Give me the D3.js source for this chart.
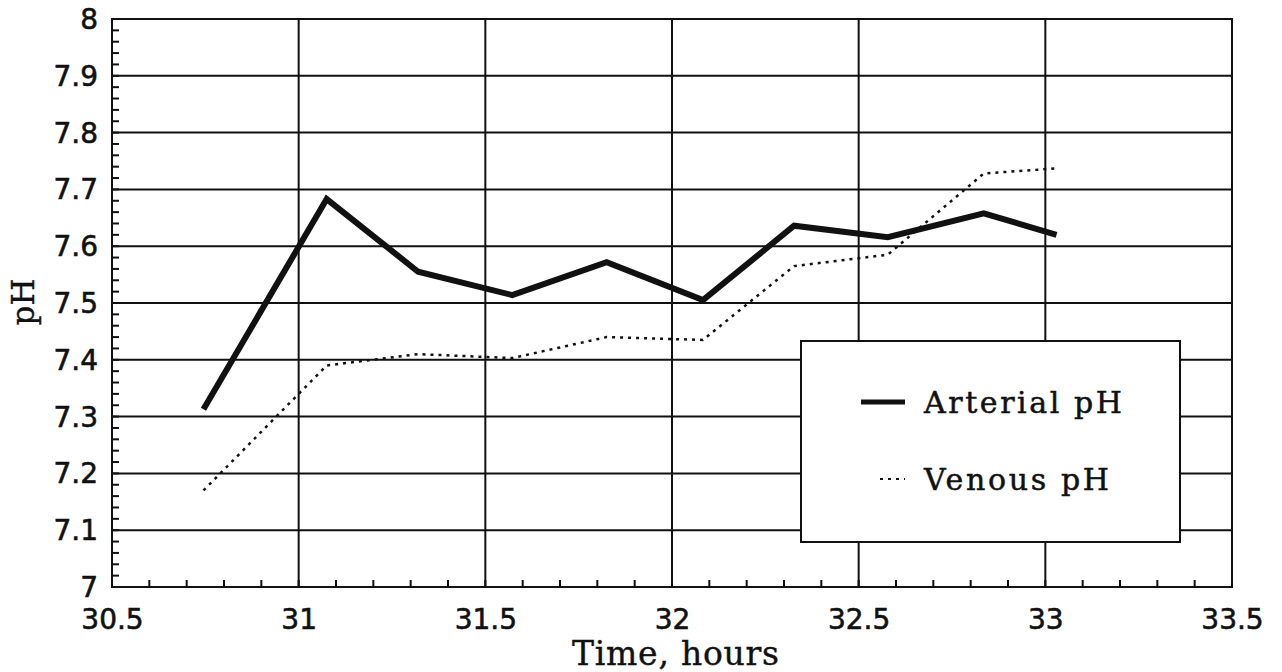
<!DOCTYPE html>
<html><head><meta charset="utf-8">
<script src="https://cdn.jsdelivr.net/npm/d3@7"></script>
<style>body{margin:0;background:#fff}svg{display:block}</style>
</head><body>
<script>
const times = [30.745, 31.075, 31.32, 31.572, 31.825, 32.083, 32.327, 32.578, 32.835, 33.03];
const arterialPH = [7.313, 7.683, 7.555, 7.514, 7.572, 7.505, 7.636, 7.616, 7.658, 7.62];
const venousPH  = [7.17, 7.39, 7.41, 7.403, 7.44, 7.435, 7.565, 7.585, 7.728, 7.737];
const xTicks = [30.5, 31, 31.5, 32, 32.5, 33, 33.5];
const yTicks = [7, 7.1, 7.2, 7.3, 7.4, 7.5, 7.6, 7.7, 7.8, 7.9, 8];
const legendLabels = ["Arterial pH", "Venous pH"];

const W = 1282, H = 672;
const m = {left: 112, right: 50, top: 19, bottom: 85};
const svg = d3.select("body").append("svg").attr("width", W).attr("height", H);
const x = d3.scaleLinear().domain([30.5, 33.5]).range([m.left, W - m.right]);
const y = d3.scaleLinear().domain([7, 8]).range([H - m.bottom, m.top]);
const sans = "'DejaVu Sans', sans-serif";
const serif = "'DejaVu Serif', serif";

// grid
const g = svg.append("g").attr("stroke", "#111").attr("stroke-width", 2);
g.selectAll(".hg").data(yTicks).join("line")
  .attr("x1", x(30.5)).attr("x2", x(33.5)).attr("y1", d => y(d)).attr("y2", d => y(d));
g.selectAll(".vg").data(xTicks).join("line")
  .attr("y1", y(7)).attr("y2", y(8)).attr("x1", d => x(d)).attr("x2", d => x(d));

// minor ticks
const yMinor = d3.range(7, 8.0001, 0.02);
g.selectAll(".ym").data(yMinor).join("line")
  .attr("x1", x(30.5)).attr("x2", x(30.5) + 7).attr("y1", d => y(d)).attr("y2", d => y(d));
const xMinor = d3.range(30.5, 33.5001, 0.1);
g.selectAll(".xm").data(xMinor).join("line")
  .attr("x1", d => x(d)).attr("x2", d => x(d)).attr("y1", y(7)).attr("y2", y(7) - 7);

// axes labels via d3 axes
const xAxis = svg.append("g").attr("transform", `translate(0,${y(7)})`)
  .call(d3.axisBottom(x).tickValues(xTicks).tickFormat(d3.format("")).tickSize(0).tickPadding(0));
const yAxis = svg.append("g").attr("transform", `translate(${x(30.5)},0)`)
  .call(d3.axisLeft(y).tickValues(yTicks).tickFormat(d3.format("")).tickSize(0).tickPadding(14));
[xAxis, yAxis].forEach(a => {
  a.select(".domain").remove();
  a.selectAll("text").attr("font-family", sans).attr("font-size", 28)
    .attr("fill", "#111").attr("stroke", "#111").attr("stroke-width", 0.6);
});
xAxis.selectAll("text").attr("y", 42).attr("dy", null);
yAxis.selectAll("text").attr("dy", "0.34em");

// lines
const line = d3.line().x((d, i) => x(times[i])).y(d => y(d));
svg.append("path").datum(venousPH).attr("d", line).attr("fill", "none")
  .attr("stroke", "#111").attr("stroke-width", 2.5).attr("stroke-dasharray", "3,5");
svg.append("path").datum(arterialPH).attr("d", line).attr("fill", "none")
  .attr("stroke", "#111").attr("stroke-width", 6).attr("stroke-linejoin", "miter");

// frame
svg.append("rect").attr("x", x(30.5)).attr("y", y(8)).attr("width", x(33.5) - x(30.5)).attr("height", y(7) - y(8))
  .attr("fill", "none").attr("stroke", "#111").attr("stroke-width", 2);

// legend
const lg = svg.append("g");
lg.append("rect").attr("x", 801).attr("y", 341).attr("width", 379).attr("height", 201)
  .attr("fill", "#fff").attr("stroke", "#111").attr("stroke-width", 2);
lg.append("line").attr("x1", 861).attr("x2", 905).attr("y1", 402).attr("y2", 402)
  .attr("stroke", "#111").attr("stroke-width", 5);
lg.append("line").attr("x1", 880).attr("x2", 905).attr("y1", 479).attr("y2", 479)
  .attr("stroke", "#111").attr("stroke-width", 2).attr("stroke-dasharray", "3,5");
const legendWidths = [198, 185];
lg.selectAll("text").data(legendLabels).join("text")
  .attr("x", 924).attr("y", (d, i) => 413 + i * 77)
  .attr("font-family", serif).attr("font-size", 30).attr("fill", "#111")
  .attr("stroke", "#111").attr("stroke-width", 0.5)
  .attr("textLength", (d, i) => legendWidths[i]).attr("lengthAdjust", "spacing")
  .text(d => d);

// axis titles
svg.append("text").attr("x", 572).attr("y", 665)
  .attr("font-family", serif).attr("font-size", 33).attr("fill", "#111")
  .attr("stroke", "#111").attr("stroke-width", 0.4)
  .attr("textLength", 207).attr("lengthAdjust", "spacing")
  .text("Time, hours");
svg.append("text").attr("transform", `translate(34,302) rotate(-90)`).attr("text-anchor", "middle")
  .attr("font-family", serif).attr("font-size", 31).attr("fill", "#111")
  .attr("stroke", "#111").attr("stroke-width", 0.4)
  .text("pH");
</script>
</body></html>
